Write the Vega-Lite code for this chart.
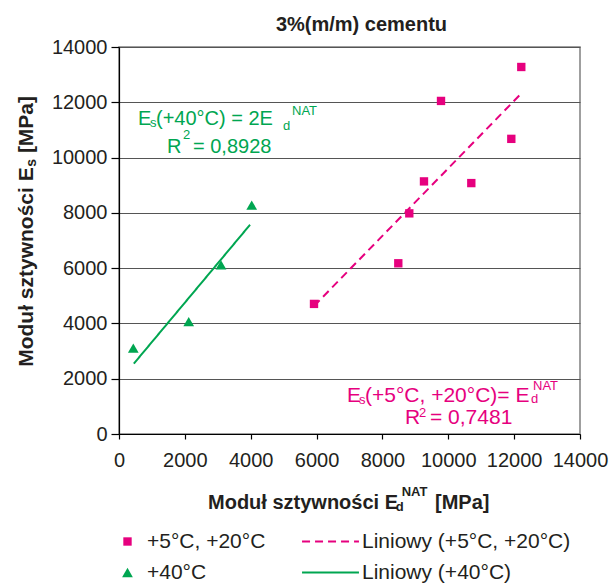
{
  "$schema": "https://vega.github.io/schema/vega-lite/v6.json",
  "width": 461,
  "height": 387,
  "autosize": {"type": "none"},
  "padding": {"left": 119, "top": 47, "right": 31, "bottom": 149},
  "background": "white",
  "config": {
    "font": "Liberation Sans",
    "view": {"stroke": "#808080", "strokeWidth": 1.5},
    "axis": {
      "labelFont": "Liberation Sans",
      "labelFontSize": 20,
      "labelColor": "#231f20",
      "domainColor": "#000000",
      "domainWidth": 1.2,
      "tickColor": "#000000",
      "tickWidth": 1.2,
      "gridColor": "#555555",
      "gridWidth": 1.2,
      "labelOverlap": false,
      "labelFlush": false
    },
    "legend": {
      "labelFont": "Liberation Sans",
      "labelFontSize": 21,
      "labelColor": "#231f20",
      "labelLimit": 400
    }
  },
  "title": {
    "text": "3%(m/m) cementu",
    "font": "Liberation Sans",
    "fontSize": 20,
    "fontWeight": "bold",
    "color": "#231f20",
    "anchor": "middle",
    "dx": 12,
    "baseline": "alphabetic",
    "offset": -14
  },
  "datasets": {
    "pts": [
      {"Ed": 5922, "Es": 4706, "series": "+5°C, +20°C"},
      {"Ed": 8482, "Es": 6176, "series": "+5°C, +20°C"},
      {"Ed": 8816, "Es": 7982, "series": "+5°C, +20°C"},
      {"Ed": 9262, "Es": 9138, "series": "+5°C, +20°C"},
      {"Ed": 9779, "Es": 12049, "series": "+5°C, +20°C"},
      {"Ed": 10699, "Es": 9077, "series": "+5°C, +20°C"},
      {"Ed": 11914, "Es": 10677, "series": "+5°C, +20°C"},
      {"Ed": 12217, "Es": 13277, "series": "+5°C, +20°C"},
      {"Ed": 434, "Es": 3106, "series": "+40°C"},
      {"Ed": 2117, "Es": 4067, "series": "+40°C"},
      {"Ed": 3098, "Es": 6115, "series": "+40°C"},
      {"Ed": 4030, "Es": 8282, "series": "+40°C"}
    ],
    "fits": [
      {"Ed": 5922, "Es": 4630, "fit": "Liniowy (+5°C, +20°C)"},
      {"Ed": 12217, "Es": 12320, "fit": "Liniowy (+5°C, +20°C)"},
      {"Ed": 450, "Es": 2545, "fit": "Liniowy (+40°C)"},
      {"Ed": 3980, "Es": 7570, "fit": "Liniowy (+40°C)"}
    ],
    "ann": [
      {"X": 577, "Y": 11172, "t": "E", "grp": "gm"},
      {"X": 1124, "Y": 11172, "t": "(+40°C) = 2E", "grp": "gm"},
      {"X": 1458, "Y": 10150, "t": "R", "grp": "gm"},
      {"X": 2247, "Y": 10150, "t": "= 0,8928", "grp": "gm"},
      {"X": 941, "Y": 11099, "t": "s", "grp": "gs"},
      {"X": 4980, "Y": 10991, "t": "d", "grp": "gs"},
      {"X": 5254, "Y": 11533, "t": "NAT", "grp": "gs"},
      {"X": 1944, "Y": 10666, "t": "2", "grp": "gs"},
      {"X": 6924, "Y": 1167, "t": "E", "grp": "pm"},
      {"X": 7471, "Y": 1167, "t": "(+5°C, +20°C)= E", "grp": "pm"},
      {"X": 8686, "Y": 372, "t": "R", "grp": "pm"},
      {"X": 9445, "Y": 372, "t": "= 0,7481", "grp": "pm"},
      {"X": 7289, "Y": 1094, "t": "s", "grp": "ps"},
      {"X": 12512, "Y": 1120, "t": "d", "grp": "ps"},
      {"X": 12573, "Y": 1600, "t": "NAT", "grp": "ps"},
      {"X": 9111, "Y": 625, "t": "2", "grp": "ps"},
      {"X": 2703, "Y": -2698, "t": "Moduł sztywności E", "grp": "tm"},
      {"X": 9597, "Y": -2698, "t": "[MPa]", "grp": "tm"},
      {"X": 8403, "Y": -2795, "t": "d", "grp": "ts"},
      {"X": 8584, "Y": -2250, "t": "NAT", "grp": "ts"},
      {"X": -2612, "Y": 2431, "t": "Moduł sztywności E", "grp": "yr"},
      {"X": -2612, "Y": 10161, "t": "[MPa]", "grp": "yr"},
      {"X": -2521, "Y": 9666, "t": "s", "grp": "ys"}
    ]
  },
  "layer": [
    {
      "data": {"name": "fits"},
      "mark": {"type": "line", "strokeWidth": 2},
      "encoding": {
        "x": {
          "field": "Ed", "type": "quantitative",
          "scale": {"domain": [0, 14000], "nice": false, "zero": false},
          "axis": {"values": [0, 2000, 4000, 6000, 8000, 10000, 12000, 14000], "format": "d", "title": null, "grid": false, "tickSize": 5, "labelPadding": 11}
        },
        "y": {
          "field": "Es", "type": "quantitative",
          "scale": {"domain": [0, 14000], "nice": false, "zero": false},
          "axis": {"values": [0, 2000, 4000, 6000, 8000, 10000, 12000, 14000], "format": "d", "title": null, "grid": true, "tickSize": 8, "labelPadding": 4}
        },
        "color": {
          "field": "fit", "type": "nominal",
          "scale": {"domain": ["Liniowy (+5°C, +20°C)", "Liniowy (+40°C)"], "range": ["#E6007E", "#00A651"]},
          "legend": {"orient": "none", "legendX": 201, "legendY": 484, "title": null, "symbolType": "M-6,0H6", "symbolSize": 90, "symbolStrokeWidth": 2, "labelOffset": 21, "rowPadding": 9}
        },
        "strokeDash": {
          "field": "fit", "type": "nominal",
          "scale": {"domain": ["Liniowy (+5°C, +20°C)", "Liniowy (+40°C)"], "range": [[8, 5], [1, 0]]},
          "legend": {"orient": "none", "legendX": 201, "legendY": 484, "title": null, "symbolType": "M-6,0H6", "symbolSize": 90, "symbolStrokeWidth": 2, "labelOffset": 21, "rowPadding": 9}
        }
      }
    },
    {
      "data": {"name": "pts"},
      "mark": {"type": "point", "filled": true, "opacity": 1},
      "encoding": {
        "x": {"field": "Ed", "type": "quantitative"},
        "y": {"field": "Es", "type": "quantitative"},
        "color": {
          "field": "series", "type": "nominal",
          "scale": {"domain": ["+5°C, +20°C", "+40°C"], "range": ["#E6007E", "#00A651"]},
          "legend": {"orient": "none", "legendX": -2, "legendY": 484, "title": null, "symbolSize": 80, "labelOffset": 9, "rowPadding": 9, "symbolStrokeWidth": 0}
        },
        "shape": {
          "field": "series", "type": "nominal",
          "scale": {"domain": ["+5°C, +20°C", "+40°C"], "range": ["square", "triangle-up"]},
          "legend": {"orient": "none", "legendX": -2, "legendY": 484, "title": null, "symbolSize": 80, "labelOffset": 9, "rowPadding": 9, "symbolStrokeWidth": 0}
        },
        "size": {
          "field": "series", "type": "nominal",
          "scale": {"domain": ["+5°C, +20°C", "+40°C"], "range": [70, 115]},
          "legend": null
        }
      }
    },
    {
      "data": {"name": "ann"},
      "transform": [{"filter": "datum.grp === 'gm'"}],
      "mark": {"type": "text", "font": "Liberation Sans", "fontSize": 20, "color": "#00A651", "align": "left", "baseline": "alphabetic"},
      "encoding": {"x": {"field": "X", "type": "quantitative"}, "y": {"field": "Y", "type": "quantitative"}, "text": {"field": "t"}}
    },
    {
      "data": {"name": "ann"},
      "transform": [{"filter": "datum.grp === 'gs'"}],
      "mark": {"type": "text", "font": "Liberation Sans", "fontSize": 13, "color": "#00A651", "align": "left", "baseline": "alphabetic"},
      "encoding": {"x": {"field": "X", "type": "quantitative"}, "y": {"field": "Y", "type": "quantitative"}, "text": {"field": "t"}}
    },
    {
      "data": {"name": "ann"},
      "transform": [{"filter": "datum.grp === 'pm'"}],
      "mark": {"type": "text", "font": "Liberation Sans", "fontSize": 21, "color": "#E6007E", "align": "left", "baseline": "alphabetic"},
      "encoding": {"x": {"field": "X", "type": "quantitative"}, "y": {"field": "Y", "type": "quantitative"}, "text": {"field": "t"}}
    },
    {
      "data": {"name": "ann"},
      "transform": [{"filter": "datum.grp === 'ps'"}],
      "mark": {"type": "text", "font": "Liberation Sans", "fontSize": 13, "color": "#E6007E", "align": "left", "baseline": "alphabetic"},
      "encoding": {"x": {"field": "X", "type": "quantitative"}, "y": {"field": "Y", "type": "quantitative"}, "text": {"field": "t"}}
    },
    {
      "data": {"name": "ann"},
      "transform": [{"filter": "datum.grp === 'tm'"}],
      "mark": {"type": "text", "font": "Liberation Sans", "fontSize": 20, "fontWeight": "bold", "color": "#231f20", "align": "left", "baseline": "alphabetic"},
      "encoding": {"x": {"field": "X", "type": "quantitative"}, "y": {"field": "Y", "type": "quantitative"}, "text": {"field": "t"}}
    },
    {
      "data": {"name": "ann"},
      "transform": [{"filter": "datum.grp === 'ts'"}],
      "mark": {"type": "text", "font": "Liberation Sans", "fontSize": 13, "fontWeight": "bold", "color": "#231f20", "align": "left", "baseline": "alphabetic"},
      "encoding": {"x": {"field": "X", "type": "quantitative"}, "y": {"field": "Y", "type": "quantitative"}, "text": {"field": "t"}}
    },
    {
      "data": {"name": "ann"},
      "transform": [{"filter": "datum.grp === 'yr'"}],
      "mark": {"type": "text", "font": "Liberation Sans", "fontSize": 21, "fontWeight": "bold", "color": "#231f20", "align": "left", "baseline": "alphabetic", "angle": 270},
      "encoding": {"x": {"field": "X", "type": "quantitative"}, "y": {"field": "Y", "type": "quantitative"}, "text": {"field": "t"}}
    },
    {
      "data": {"name": "ann"},
      "transform": [{"filter": "datum.grp === 'ys'"}],
      "mark": {"type": "text", "font": "Liberation Sans", "fontSize": 14, "fontWeight": "bold", "color": "#231f20", "align": "left", "baseline": "alphabetic", "angle": 270},
      "encoding": {"x": {"field": "X", "type": "quantitative"}, "y": {"field": "Y", "type": "quantitative"}, "text": {"field": "t"}}
    }
  ],
  "resolve": {
    "scale": {"color": "independent", "strokeDash": "independent", "shape": "independent", "size": "independent"},
    "legend": {"color": "independent", "strokeDash": "independent", "shape": "independent", "size": "independent"}
  }
}
